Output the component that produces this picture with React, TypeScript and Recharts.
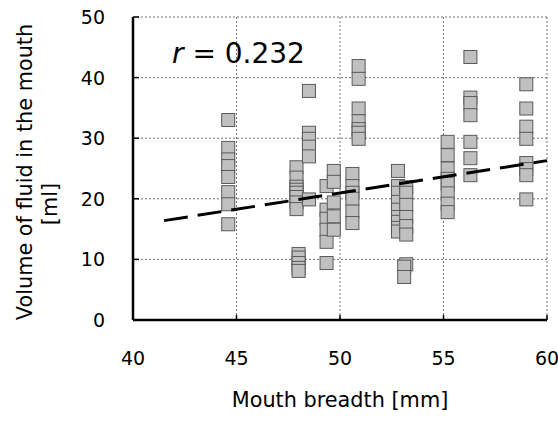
import { CartesianGrid, Scatter, ScatterChart, XAxis, YAxis } from "recharts"

// mouth breadth of each measured group [mm]
const breadths = [44.6, 47.9, 48.0, 48.5, 49.35, 49.7, 50.6, 50.9, 52.8, 53.2, 53.1, 55.2, 56.3, 59.0]

// fluid volume readings for each breadth group [ml]
const volumes = [
  [33.0, 28.4, 26.5, 25.4, 23.6, 21.1, 19.1, 15.8],
  [25.2, 23.5, 22.0, 21.5, 21.0, 20.3, 19.4, 18.3],
  [10.9, 10.3, 9.4, 8.6, 8.1],
  [37.8, 30.9, 29.9, 28.6, 27.0, 19.9],
  [22.1, 18.2, 16.7, 14.9, 12.9, 9.4],
  [24.6, 22.8, 19.4, 17.1, 14.9],
  [24.1, 22.1, 21.0, 20.0, 17.9, 16.0],
  [41.9, 39.8, 34.9, 32.8, 31.5, 30.9, 29.9],
  [24.6, 22.1, 21.0, 19.5, 18.2, 17.0, 16.2, 15.2, 14.6],
  [21.9, 21.0, 19.0, 17.0, 15.5, 14.1, 9.2],
  [8.8, 7.1],
  [29.4, 27.2, 25.0, 23.3, 22.5, 20.9, 19.2, 17.8],
  [43.4, 36.7, 35.8, 33.8, 29.4, 26.7, 23.9],
  [38.9, 34.9, 31.9, 29.9, 25.9, 24.9, 23.9, 19.9],
]

// regression line end points
const trendX = [41.5, 60]
const trendY = [16.4, 26.3]

const xTicks = [40, 45, 50, 55, 60]
const yTicks = [0, 10, 20, 30, 40, 50]

const points = breadths.flatMap((b, i) => volumes[i].map((v) => ({ x: b, y: v })))
const trend = trendX.map((x, i) => ({ x, y: trendY[i] }))

const font = "'DejaVu Sans', sans-serif"

function XTick({ x, y, payload }: any) {
  return (
    <g>
      <line x1={x} y1={y} x2={x} y2={y - 5} stroke="#000" strokeWidth={1.5} />
      <text x={x} y={y + 45} textAnchor="middle" fontSize={19} fontFamily={font} fill="#000">
        {payload.value}
      </text>
    </g>
  )
}

function YTick({ x, y, payload }: any) {
  return (
    <g>
      <line x1={x} y1={y} x2={x + 6} y2={y} stroke="#000" strokeWidth={1.5} />
      <text x={x - 28} y={y + 7} textAnchor="end" fontSize={19} fontFamily={font} fill="#000">
        {payload.value}
      </text>
    </g>
  )
}

function SquareMarker({ cx, cy }: any) {
  return <rect x={cx - 6.5} y={cy - 6.5} width={13} height={13} fill="#c0c0c0" stroke="#5a5a5a" strokeWidth={1} />
}

export default function App() {
  return (
    <div style={{ position: "absolute", left: 0, top: 0, width: 558, height: 421, background: "#fff" }}>
      <ScatterChart width={558} height={421} margin={{ top: 17, right: 11, bottom: 100, left: 132 }}>
        <CartesianGrid stroke="#707070" strokeDasharray="2 2" strokeWidth={1} />
        <XAxis
          type="number"
          dataKey="x"
          domain={[40, 60]}
          ticks={xTicks}
          height={1}
          tickSize={0}
          tickMargin={0}
          tickLine={false}
          tick={<XTick />}
          axisLine={{ stroke: "#000", strokeWidth: 2.5 }}
          interval={0}
        />
        <YAxis
          type="number"
          dataKey="y"
          domain={[0, 50]}
          ticks={yTicks}
          width={1}
          tickSize={0}
          tickMargin={0}
          tickLine={false}
          tick={<YTick />}
          axisLine={{ stroke: "#000", strokeWidth: 2.5 }}
          interval={0}
        />
        <Scatter data={points} shape={<SquareMarker />} isAnimationActive={false} />
        <Scatter
          data={trend}
          shape={() => <g />}
          line={{ stroke: "#000", strokeWidth: 3, strokeDasharray: "24 10" }}
          isAnimationActive={false}
        />
      </ScatterChart>
      <svg width={558} height={421} style={{ position: "absolute", left: 0, top: 0, pointerEvents: "none" }}>
        <text x={172} y={63} fontSize={28} fontFamily={font} fill="#000">
          <tspan fontStyle="italic">r</tspan> = 0.232
        </text>
        <text x={340} y={407} textAnchor="middle" fontSize={20.8} fontFamily={font} fill="#000">
          Mouth breadth [mm]
        </text>
        <text transform="translate(32,172) rotate(-90)" textAnchor="middle" fontSize={20.8} fontFamily={font} fill="#000">
          Volume of fluid in the mouth
        </text>
        <text transform="translate(57,204) rotate(-90)" textAnchor="middle" fontSize={20.8} fontFamily={font} fill="#000">
          [ml]
        </text>
      </svg>
    </div>
  )
}
